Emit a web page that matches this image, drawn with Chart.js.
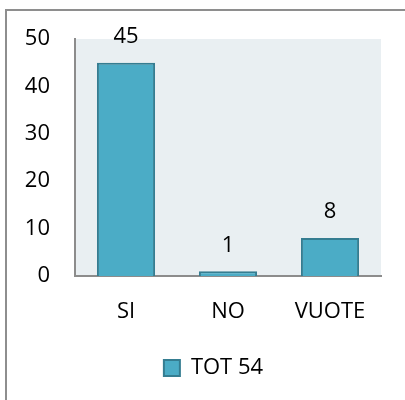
<!DOCTYPE html>
<html>
<head>
<meta charset="utf-8">
<script src="https://cdn.jsdelivr.net/npm/chart.js@4/dist/chart.umd.min.js"></script>
<style>
  html, body { margin: 0; padding: 0; background: #fff; overflow: hidden; }
  .frame { position: absolute; left: 5px; top: 9px; width: 420px; height: 420px;
           border-left: 2px solid #8e8e8e; border-top: 2px solid #8e8e8e; }
  #chart { position: absolute; left: 0; top: 0; }
</style>
</head>
<body>
<div class="frame"></div>
<canvas id="chart" width="405" height="400"></canvas>
<script>
const categories = ['SI', 'NO', 'VUOTE']
const votes = [45, 1, 8]
const seriesName = 'TOT 54'
const yTicks = [0, 10, 20, 30, 40, 50]

const FONT = 'Open Sans'

// light blue-gray plot background
const plotBg = {
    id: 'plotBg',
    beforeDraw(chart) {
        const { ctx, chartArea: a } = chart
        ctx.save()
        ctx.fillStyle = '#e9eff2'
        ctx.fillRect(a.left, a.top, a.right - a.left, a.bottom - a.top)
        ctx.restore()
    }
}

// legend is centred in the outer frame, not the canvas
const legendShift = {
    id: 'legendShift',
    afterLayout(chart) {
        chart.legend.left = 46
    }
}

// value above each bar
const barValues = {
    id: 'barValues',
    afterDatasetsDraw(chart) {
        const { ctx } = chart
        const meta = chart.getDatasetMeta(0)
        ctx.save()
        ctx.font = '22px "' + FONT + '"'
        ctx.fillStyle = '#000'
        ctx.textAlign = 'center'
        ctx.textBaseline = 'middle'
        meta.data.forEach((bar, i) => {
            ctx.fillText(String(votes[i]), bar.x, bar.y - 26)
        })
        ctx.restore()
    }
}

new Chart(document.getElementById('chart').getContext('2d'), {
    type: 'bar',
    data: {
        labels: categories,
        datasets: [{
            label: seriesName,
            data: votes,
            backgroundColor: '#4bacc6',
            borderColor: '#357d91',
            borderWidth: 2,
            categoryPercentage: 1,
            barPercentage: 0.57
        }]
    },
    options: {
        responsive: false,
        animation: false,
        devicePixelRatio: 1,
        layout: { padding: { top: 39, right: 24, left: 0, bottom: 11 } },
        scales: {
            x: {
                grid: { display: false, drawTicks: false },
                border: { display: true, color: '#8c8c8c', width: 2 },
                ticks: { color: '#000', padding: 23, font: { family: FONT, size: 22 } },
                afterFit(scale) { scale.height = 71 }
            },
            y: {
                min: 0,
                max: 50,
                grid: { display: false, drawTicks: false },
                border: { display: true, color: '#8c8c8c', width: 2 },
                afterBuildTicks(scale) { scale.ticks = yTicks.map(v => ({ value: v })) },
                ticks: { color: '#000', padding: 25, font: { family: FONT, size: 22 } },
                afterFit(scale) { scale.width = 75 }
            }
        },
        plugins: {
            legend: {
                position: 'bottom',
                labels: {
                    color: '#000',
                    boxWidth: 16,
                    boxHeight: 16,
                    padding: 10,
                    font: { family: FONT, size: 22 }
                }
            },
            tooltip: { enabled: false }
        }
    },
    plugins: [plotBg, legendShift, barValues]
})
</script>
</body>
</html>
